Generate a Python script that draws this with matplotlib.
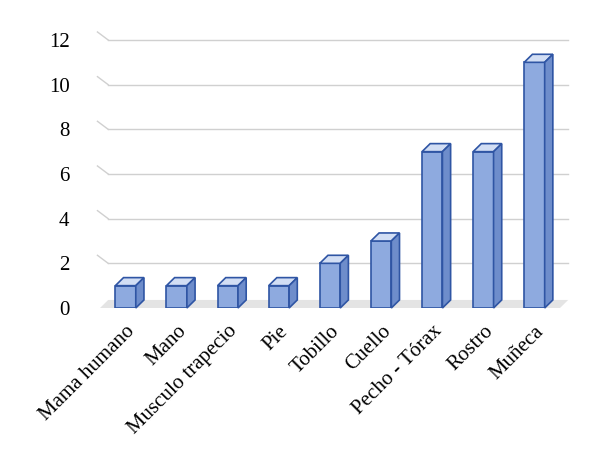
import matplotlib
matplotlib.use('Agg')
import matplotlib.pyplot as plt
from matplotlib.patches import Polygon

categories = ['Mama humano', 'Mano', 'Musculo trapecio', 'Pie', 'Tobillo',
              'Cuello', 'Pecho - Tórax', 'Rostro', 'Muñeca']
values = [1, 1, 1, 1, 2, 3, 7, 7, 11]
yticks = [0, 2, 4, 6, 8, 10, 12]

plt.rcParams['font.family'] = ['Liberation Serif', 'DejaVu Serif']

fig = plt.figure(figsize=(5.91, 4.72), dpi=100)
ax = fig.add_axes([100 / 591, 164 / 472, 460 / 591, 268 / 472])
ax.set_xlim(-0.5, 8.5)
ax.set_ylim(0, 12)
for s in ax.spines.values():
    s.set_visible(False)

w = 0.4      # bar front width
dx = 0.16    # depth offset in x
dy = 0.36    # depth offset in y

edge = '#2F55A4'
front = '#8EAADF'
top = '#D2DEF4'
side = '#6E8DCB'

# floor
ax.add_patch(Polygon([(-0.5, 0), (8.5, 0), (8.5 + dx, dy), (-0.5 + dx, dy)],
                     closed=True, fc='#E4E4E4', ec='none', clip_on=False, zorder=0))

# gridlines
for t in yticks[1:]:
    ax.plot([-0.5 + dx, 8.5 + dx], [t, t], color='#D0D0D0', lw=1, zorder=0.5, clip_on=False)
    ax.plot([-0.5 - 0.05, -0.5 + dx], [t + dy, t], color='#D0D0D0', lw=1, zorder=0.5, clip_on=False)

for i, v in enumerate(values):
    x0 = i - w / 2
    x1 = i + w / 2
    ax.add_patch(Polygon([(x0, 0), (x1, 0), (x1, v), (x0, v)],
                         fc=front, ec=edge, lw=1.2, zorder=3))
    ax.add_patch(Polygon([(x0, v), (x1, v), (x1 + dx, v + dy), (x0 + dx, v + dy)],
                         fc=top, ec=edge, lw=1.2, zorder=3, clip_on=False))
    ax.add_patch(Polygon([(x1, 0), (x1 + dx, dy), (x1 + dx, v + dy), (x1, v)],
                         fc=side, ec=edge, lw=1.2, zorder=3, clip_on=False))

ax.set_yticks(yticks)
ax.set_yticklabels([str(t) for t in yticks], fontsize=15)
ax.set_xticks(range(len(categories)))
ax.set_xticklabels(categories, rotation=45, ha='right', rotation_mode='anchor', fontsize=15)
ax.tick_params(length=0, pad=10)
ax.tick_params(axis='y', pad=22)

fig.savefig('out.png', dpi=100)
